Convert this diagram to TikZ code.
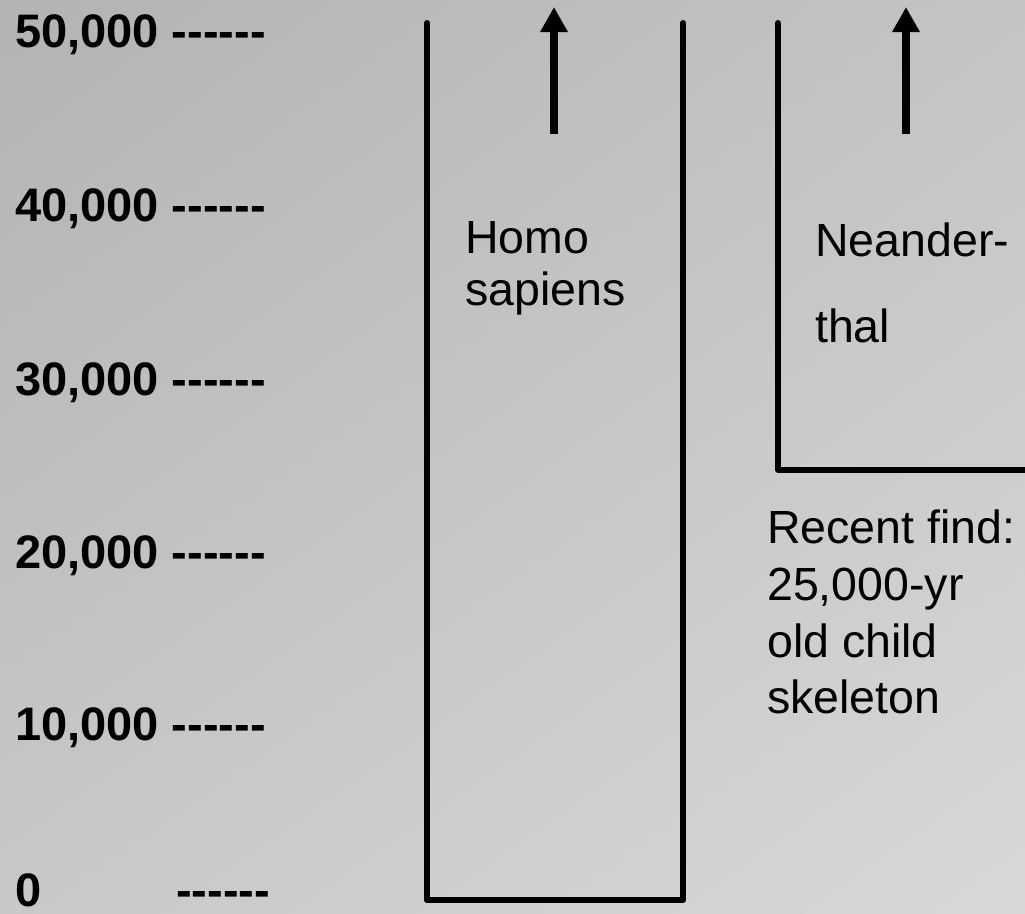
\documentclass[tikz,border=0pt]{standalone}
\usepackage{fontspec}
\setmainfont{Liberation Sans}[Ligatures=TeXOff]
\usetikzlibrary{arrows.meta,shadings}
\definecolor{bgUL}{RGB}{179,179,179}
\definecolor{bgUR}{RGB}{196,196,196}
\definecolor{bgLL}{RGB}{200,200,200}
\definecolor{bgLR}{RGB}{216,216,216}
\begin{document}
\begin{tikzpicture}[x=1pt,y=-1pt,
  axislabel/.style={anchor=base west,inner sep=0pt,font=\fontsize{47}{52}\selectfont\bfseries},
  bodytext/.style={anchor=base west,inner sep=0pt,font=\fontsize{46.5}{52}\selectfont},
  boxline/.style={line width=6pt,line join=round,line cap=round},
  uparrow/.style={line width=8pt,-{Triangle[width=26pt,length=25pt]}}]
\useasboundingbox (0,0) rectangle (1025,913);
\shade[upper left=bgUL,upper right=bgUR,lower left=bgLL,lower right=bgLR]
  (0,0) rectangle (1025,913);
% axis labels
\node[axislabel] (l50) at (15,47) {50,000 ------};
\node[axislabel] (l40) at (15,221) {40,000 ------};
\node[axislabel] (l30) at (15,395) {30,000 ------};
\node[axislabel] (l20) at (15,568) {20,000 ------};
\node[axislabel] (l10) at (15,740) {10,000 ------};
\node[axislabel] (l0) at (15,906) {0};
\node[axislabel] (l0d) at (176,906) {------};
% Homo sapiens box
\coordinate (h1) at (427,23);
\coordinate (h2) at (427,900);
\coordinate (h3) at (683,900);
\coordinate (h4) at (683,23);
\draw[boxline] (h1) -- (h2) -- (h3) -- (h4);
\coordinate (ha0) at (554,134);
\coordinate (ha1) at (554,7);
\draw[uparrow] (ha0) -- (ha1);
\node[bodytext] (homo) at (465,253) {Homo};
\node[bodytext] (sap) at (465,305) {sapiens};
% Neanderthal box
\coordinate (n1) at (778,23);
\coordinate (n2) at (778,470);
\coordinate (n3) at (1030,470);
\draw[boxline] (n1) -- (n2) -- (n3);
\coordinate (na0) at (906,134);
\coordinate (na1) at (906,7);
\draw[uparrow] (na0) -- (na1);
\node[bodytext] (nea) at (815,256) {Neander-};
\node[bodytext] (thal) at (815,342) {thal};
% recent find
\node[bodytext] (r1) at (767,543) {Recent find:};
\node[bodytext] (r2) at (767,600) {25,000-yr};
\node[bodytext] (r3) at (767,657) {old child};
\node[bodytext] (r4) at (767,713) {skeleton};
\end{tikzpicture}
\end{document}
